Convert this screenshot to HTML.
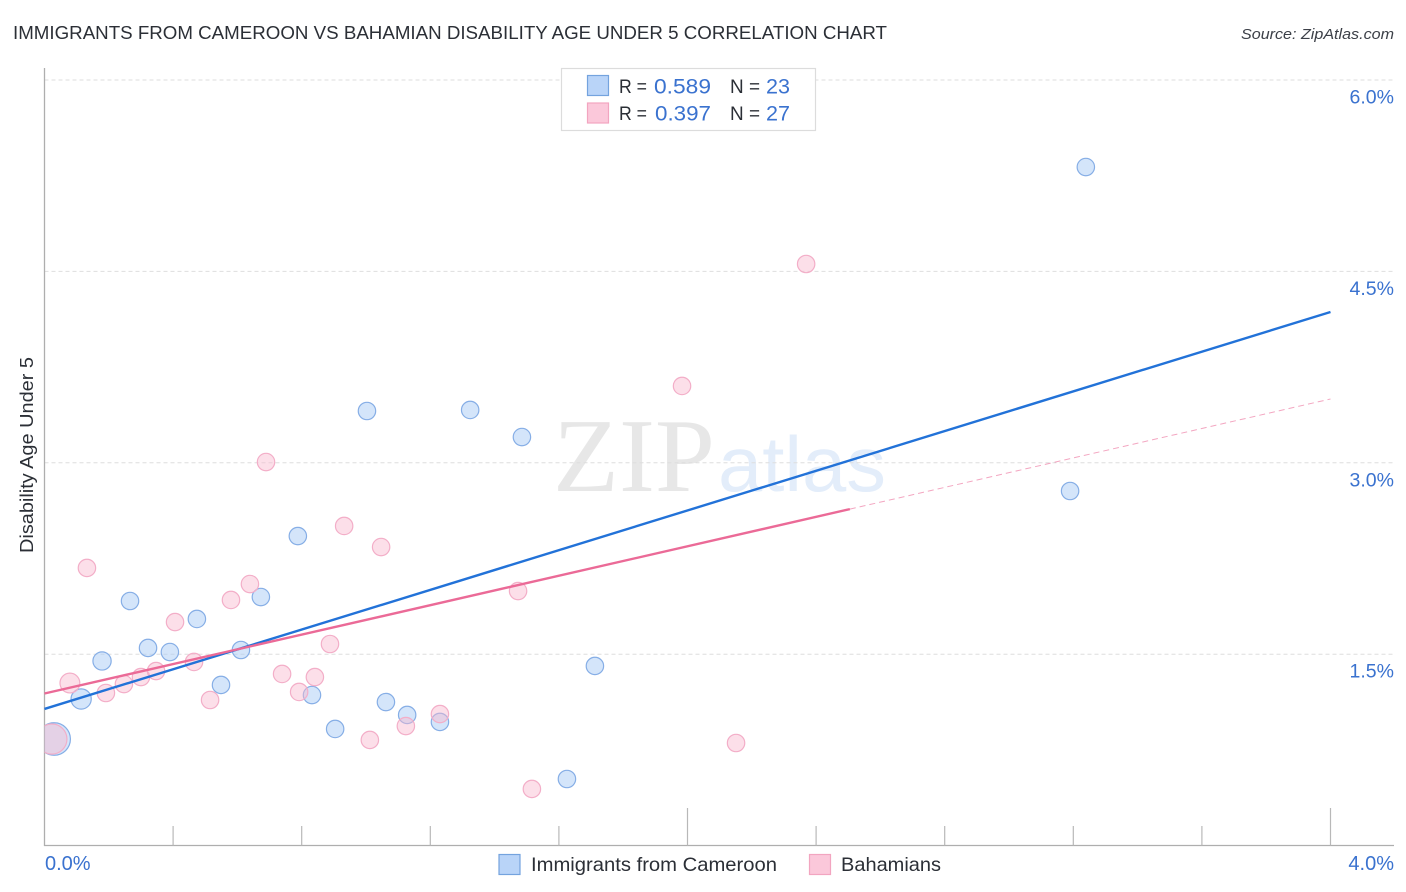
<!DOCTYPE html>
<html>
<head>
<meta charset="utf-8">
<style>
html,body{margin:0;padding:0;background:#fff;}
svg{display:block;font-family:"Liberation Sans",sans-serif;}
</style>
</head>
<body>
<svg id="chart" width="1406" height="892" viewBox="0 0 1406 892" xmlns="http://www.w3.org/2000/svg">
  <defs><clipPath id="plot-clip"><rect x="44.5" y="60" width="1350" height="785"/></clipPath></defs>
  <text x="13" y="39" font-size="18.5" fill="#2b2f36" textLength="874" lengthAdjust="spacingAndGlyphs">IMMIGRANTS FROM CAMEROON VS BAHAMIAN DISABILITY AGE UNDER 5 CORRELATION CHART</text>
  <text x="1241" y="39" font-size="15" font-style="italic" fill="#3c4048" textLength="153" lengthAdjust="spacingAndGlyphs">Source: ZipAtlas.com</text>
  <g>
    <text x="553" y="491" font-family="'Liberation Serif',serif" font-size="105" fill="#e7e7e7" textLength="162" lengthAdjust="spacingAndGlyphs">ZIP</text>
    <text x="718" y="491" font-size="78" fill="#e3edfa" textLength="168" lengthAdjust="spacingAndGlyphs">atlas</text>
  </g>
  <g id="grid"></g>
  <g id="axes">
    <line x1="44.5" y1="68" x2="44.5" y2="846" stroke="#aeaeae" stroke-width="1.3"/>
    <line x1="44" y1="845.5" x2="1394" y2="845.5" stroke="#aeaeae" stroke-width="1.3"/>
  </g>
  <g id="x-ticks"></g>
  <g id="y-labels"></g>
  <g id="x-labels"></g>
  <text transform="translate(33,455) rotate(-90)" font-size="18" fill="#2b2f36" text-anchor="middle" textLength="196" lengthAdjust="spacingAndGlyphs">Disability Age Under 5</text>
  <g id="blue-points" clip-path="url(#plot-clip)"></g>
  <g id="pink-points" clip-path="url(#plot-clip)"></g>
  <g id="trends"></g>
  <g>
    <rect x="561.5" y="68.5" width="254" height="62" fill="#fff" stroke="#dcdcdc" stroke-width="1.2"/>
    <rect x="587.5" y="75.5" width="21" height="20" fill="#b9d4f8" stroke="#74a3de" stroke-width="1.2"/>
    <rect x="587.5" y="103" width="21" height="20" fill="#fbc8da" stroke="#f2a5c0" stroke-width="1.2"/>
    <g font-size="19.5" fill="#2b2f36">
      <text x="619" y="93" textLength="28" lengthAdjust="spacingAndGlyphs">R =</text>
      <text x="730" y="93" textLength="30" lengthAdjust="spacingAndGlyphs">N =</text>
      <text x="619" y="120" textLength="28" lengthAdjust="spacingAndGlyphs">R =</text>
      <text x="730" y="120" textLength="30" lengthAdjust="spacingAndGlyphs">N =</text>
    </g>
    <g font-size="21" fill="#3a72cf">
      <text x="654" y="93.5" textLength="57" lengthAdjust="spacingAndGlyphs">0.589</text>
      <text x="766" y="93.5" textLength="24" lengthAdjust="spacingAndGlyphs">23</text>
      <text x="655" y="120.5" textLength="56" lengthAdjust="spacingAndGlyphs">0.397</text>
      <text x="766" y="120.5" textLength="24" lengthAdjust="spacingAndGlyphs">27</text>
    </g>
  </g>
  <g>
    <rect x="499" y="854.5" width="21" height="20" fill="#b9d4f8" stroke="#74a3de" stroke-width="1.2"/>
    <text x="531" y="871" font-size="19.5" fill="#2b2f36" textLength="246" lengthAdjust="spacingAndGlyphs">Immigrants from Cameroon</text>
    <rect x="809.5" y="854.5" width="21" height="20" fill="#fbc8da" stroke="#f2a5c0" stroke-width="1.2"/>
    <text x="841" y="871" font-size="19.5" fill="#2b2f36" textLength="100" lengthAdjust="spacingAndGlyphs">Bahamians</text>
  </g>
</svg>
<script>
const yTickValues = [6.0, 4.5, 3.0, 1.5];
const yTickLabels = ['6.0%', '4.5%', '3.0%', '1.5%'];
const xEndValues = [0, 4];
const xEndLabels = ['0.0%', '4.0%'];
const xTickValues = [0.4, 0.8, 1.2, 1.6, 2.0, 2.4, 2.8, 3.2, 3.6, 4.0];
const xMajorTickValues = [2.0, 4.0];

const blueX = [0.030,0.114,0.179,0.266,0.322,0.390,0.474,0.549,0.611,0.673,0.788,0.832,0.904,1.003,1.062,1.128,1.230,1.324,1.485,1.625,1.712,3.190,3.239];
const blueY = [0.835,1.149,1.447,1.917,1.549,1.517,1.776,1.259,1.533,1.948,2.426,1.180,0.914,3.406,1.125,1.024,0.969,3.414,3.202,0.522,1.408,2.779,5.318];
const blueWeight = [3.5,1.35,1.1,1,1,1,1,1,1,1,1,1,1,1,1,1,1,1,1,1,1,1,1];

const pinkX = [0.023,0.079,0.132,0.191,0.247,0.300,0.347,0.406,0.465,0.515,0.580,0.639,0.689,0.739,0.792,0.841,0.888,0.932,1.012,1.047,1.124,1.230,1.473,1.516,1.983,2.151,2.369];
const pinkY = [0.835,1.274,2.176,1.196,1.266,1.321,1.368,1.752,1.439,1.141,1.925,2.050,3.006,1.345,1.204,1.321,1.580,2.505,0.828,2.340,0.937,1.031,1.995,0.444,3.602,0.804,4.558];
const pinkWeight = [3.0,1.3,1,1,1,1,1,1,1,1,1,1,1,1,1,1,1,1,1,1,1,1,1,1,1,1,1];

const blueTrendX = [0, 4];
const blueTrendY = [1.071, 4.182];
const pinkTrendSolidX = [0, 2.505];
const pinkTrendSolidY = [1.192, 2.637];
const pinkTrendDashX = [2.505, 4];
const pinkTrendDashY = [2.637, 3.50];

const SVGNS = 'http://www.w3.org/2000/svg';
function xScale(v){ return 44.5 + v * 321.5; }
function yScale(v){ return 845.6 - v * 127.6; }
function rScale(w){ return 8.7 * Math.sqrt(w); }
function make(tag, attrs, parent){
  const el = document.createElementNS(SVGNS, tag);
  for (const k in attrs) el.setAttribute(k, attrs[k]);
  parent.appendChild(el);
  return el;
}

const gridG = document.getElementById('grid');
yTickValues.forEach(function(v){
  const el = make('line', {x1:44.5, x2:1394, y1:yScale(v), y2:yScale(v), stroke:'#dedede', 'stroke-width':1, 'stroke-dasharray':'4 3'}, gridG);
  
  
});

const yLabelG = document.getElementById('y-labels');
yTickValues.forEach(function(v, i){
  const el = make('text', {x:1394, y:yScale(v) + 23.5, 'text-anchor':'end', 'font-size':19.5, fill:'#3a72cf'}, yLabelG);
  el.textContent = yTickLabels[i];
  
  
});

const xLabelG = document.getElementById('x-labels');
xEndValues.forEach(function(v, i){
  const anchor = i === 0 ? 'start' : 'end';
  const px = i === 0 ? xScale(v) + 0.5 : xScale(v) + 63.5;
  const el = make('text', {x:px, y:870, 'text-anchor':anchor, 'font-size':20, fill:'#3a72cf'}, xLabelG);
  el.textContent = xEndLabels[i];
  
  
});

const tickG = document.getElementById('x-ticks');
xTickValues.forEach(function(v){
  const major = xMajorTickValues.indexOf(v) >= 0;
  const el = make('line', {x1:xScale(v), x2:xScale(v), y1:major ? 808 : 826, y2:845.5, stroke:'#b8b8b8', 'stroke-width':1.2}, tickG);
  
  
});

const blueG = document.getElementById('blue-points');
blueX.forEach(function(v, i){
  const el = make('circle', {cx:xScale(v), cy:yScale(blueY[i]), r:rScale(blueWeight[i]), fill:'#a9cbf5', 'fill-opacity':0.5, stroke:'#86aee6', 'stroke-width':1.2}, blueG);
  
  
});

const pinkG = document.getElementById('pink-points');
pinkX.forEach(function(v, i){
  const el = make('circle', {cx:xScale(v), cy:yScale(pinkY[i]), r:rScale(pinkWeight[i]), fill:'#f9b8cf', 'fill-opacity':0.45, stroke:'#f3aec8', 'stroke-width':1.2}, pinkG);
  
  
});

const trendG = document.getElementById('trends');
const dashTrend = make('line', {x1:xScale(pinkTrendDashX[0]), y1:yScale(pinkTrendDashY[0]), x2:xScale(pinkTrendDashX[1]), y2:yScale(pinkTrendDashY[1]), stroke:'#eb6a97', 'stroke-width':1, 'stroke-dasharray':'6 4', 'stroke-opacity':0.6}, trendG);


const blueTrend = make('line', {x1:xScale(blueTrendX[0]), y1:yScale(blueTrendY[0]), x2:xScale(blueTrendX[1]), y2:yScale(blueTrendY[1]), stroke:'#2272d8', 'stroke-width':2.4}, trendG);


const pinkTrend = make('line', {x1:xScale(pinkTrendSolidX[0]), y1:yScale(pinkTrendSolidY[0]), x2:xScale(pinkTrendSolidX[1]), y2:yScale(pinkTrendSolidY[1]), stroke:'#eb6a97', 'stroke-width':2.4}, trendG);


</script>
</body>
</html>
